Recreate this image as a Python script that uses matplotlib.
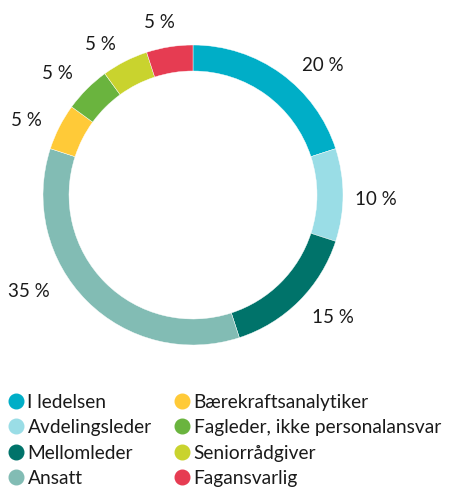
import matplotlib
matplotlib.use("Agg")
import matplotlib.pyplot as plt
from matplotlib.lines import Line2D
import numpy as np

categories = ["I ledelsen", "Avdelingsleder", "Mellomleder", "Ansatt",
              "Bærekraftsanalytiker", "Fagleder, ikke personalansvar",
              "Seniorrådgiver", "Fagansvarlig"]
values = [20, 10, 15, 35, 5, 5, 5, 5]
labels = ["20 %", "10 %", "15 %", "35 %", "5 %", "5 %", "5 %", "5 %"]
colors = ["#00AEC7", "#9ADDE6", "#00736A", "#82BCB4",
          "#FFCA38", "#6AB43E", "#C9D32E", "#E63C52"]

plt.rcParams['font.family'] = ['Lato', 'DejaVu Sans']

W, H = 450, 488
fig = plt.figure(figsize=(W / 100, H / 100), dpi=100)
ax = fig.add_axes([0, 0, 1, 1])
ax.set_xlim(0, W)
ax.set_ylim(0, H)
ax.set_aspect('equal')
ax.axis('off')

cx, cy = 193, H - 195
R = 150
width = 26
wedges, _ = ax.pie(values, colors=colors, startangle=90, counterclock=False,
                   center=(cx, cy), radius=R,
                   wedgeprops=dict(width=width, edgecolor='white', linewidth=0.3))
ax.set_xlim(0, W)
ax.set_ylim(0, H)

# label placement (layout tweaks, degrees clockwise offset from wedge mid)
angle_shift = [9, 1.5, -4, 14.5, -3, -3, -4.5, -2]
label_r = [183, 183, 186, 191, 182, 182, 177, 176]
total = sum(values)
cum = 0
for v, lab, sh, r in zip(values, labels, angle_shift, label_r):
    mid = (cum + v / 2) / total * 360 + sh
    cum += v
    a = np.deg2rad(mid)
    ax.text(cx + r * np.sin(a), cy + r * np.cos(a), lab,
            ha='center', va='center', fontsize=13.5, color='#1a1a1a')

handles = [Line2D([], [], marker='o', linestyle='none', markersize=10.5,
                  markerfacecolor=c, markeredgecolor=c) for c in colors]
fig.legend(handles, categories, ncol=2, loc='upper left',
           bbox_to_anchor=(-0.005, 1 - 386 / H), frameon=False,
           fontsize=13.8, handletextpad=0.05, columnspacing=1.05,
           labelspacing=0.44, borderaxespad=0, handlelength=1.1,
           labelcolor='#1a1a1a')

fig.savefig("out.png", dpi=100)
